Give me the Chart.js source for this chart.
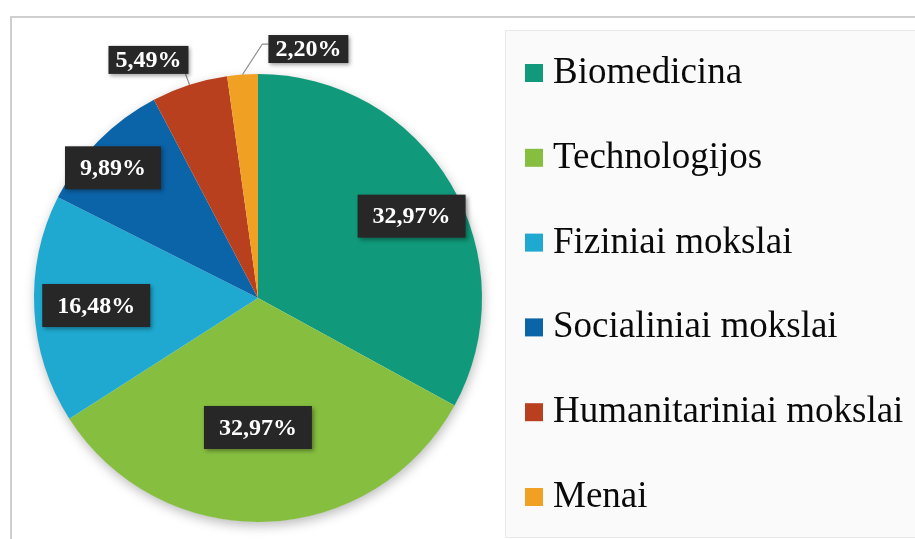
<!DOCTYPE html>
<html>
<head>
<meta charset="utf-8">
<script src="https://cdn.jsdelivr.net/npm/chart.js@4.4.1/dist/chart.umd.min.js"></script>
<style>
  html, body { margin: 0; padding: 0; background: #ffffff; }
  #wrap { position: relative; width: 915px; height: 539px; }
</style>
</head>
<body>
<div id="wrap"><canvas id="c" width="915" height="539"></canvas></div>
<script>
// ---- data ----
const categories = ["Biomedicina", "Technologijos", "Fiziniai mokslai", "Socialiniai mokslai", "Humanitariniai mokslai", "Menai"];
const shares = [32.97, 32.97, 16.48, 9.89, 5.49, 2.20];
const valueLabels = ["32,97%", "32,97%", "16,48%", "9,89%", "5,49%", "2,20%"];

// ---- styles ----
const sliceColors = ["#10997a", "#86be40", "#1fa8d0", "#0b63a8", "#b8401f", "#f0a022"];
// label placement relative to each arc: [radius factor, angle delta from mid (deg), big box?, leader type]
const labelPlacement = [
  [0.777, 2.6, true, null],
  [0.578, 2.0, true, null],
  [0.723, 0.3, true, null],
  [0.870, -2.6, true, null],
  [1.170, -6.9, false, "bottom"],
  [1.134, 15.4, false, "elbow"]
];

const frameAndLegend = {
  id: 'frameAndLegend',
  beforeDraw(chart) {
    const ctx = chart.ctx;
    ctx.save();
    ctx.fillStyle = '#ffffff';
    ctx.fillRect(0, 0, chart.width, chart.height);
    // outer frame
    ctx.strokeStyle = '#cfcfcf';
    ctx.lineWidth = 2;
    ctx.beginPath();
    ctx.moveTo(11, 545);
    ctx.lineTo(11, 17);
    ctx.lineTo(920, 17);
    ctx.stroke();
    // legend box
    ctx.fillStyle = '#fafafa';
    ctx.fillRect(505, 30, 420, 507);
    ctx.strokeStyle = '#e9e9e9';
    ctx.lineWidth = 1;
    ctx.strokeRect(505.5, 30.5, 420, 507);
    // legend entries
    ctx.font = '37px "Liberation Serif", "Times New Roman", serif';
    ctx.textBaseline = 'alphabetic';
    ctx.textAlign = 'left';
    categories.forEach((name, i) => {
      const base = 83 + i * 84.8;
      ctx.fillStyle = sliceColors[i];
      ctx.fillRect(525, base - 19, 18, 18);
      ctx.fillStyle = '#0a0a0a';
      ctx.fillText(name, 553, base);
    });
    ctx.restore();
  },
  beforeDatasetsDraw(chart) {
    const arc = chart.getDatasetMeta(0).data[0];
    if (!arc) return;
    const ctx = chart.ctx;
    ctx.save();
    ctx.shadowColor = 'rgba(0,0,0,0.28)';
    ctx.shadowBlur = 12;
    ctx.shadowOffsetX = 1;
    ctx.shadowOffsetY = 4;
    ctx.fillStyle = '#ffffff';
    ctx.beginPath();
    ctx.arc(arc.x, arc.y, arc.outerRadius - 0.5, 0, Math.PI * 2);
    ctx.fill();
    ctx.restore();
  },
  afterDatasetsDraw(chart) {
    const ctx = chart.ctx;
    const meta = chart.getDatasetMeta(0);
    ctx.save();
    ctx.font = 'bold 24px "Liberation Serif", "Times New Roman", serif';
    ctx.textAlign = 'center';
    ctx.textBaseline = 'middle';
    meta.data.forEach((el, i) => {
      const p = labelPlacement[i];
      const mid = (el.startAngle + el.endAngle) / 2;
      const a = mid + p[1] * Math.PI / 180;
      const r = el.outerRadius * p[0];
      const cx = el.x + r * Math.cos(a);
      const cy = el.y + r * Math.sin(a);
      const tw = ctx.measureText(valueLabels[i]).width;
      const w = tw + (p[2] ? 30 : 14);
      const h = p[2] ? 43 : 28;
      const bx = cx - w / 2, by = cy - h / 2;
      // leader line
      if (p[3]) {
        const ex = el.x + el.outerRadius * Math.cos(mid);
        const ey = el.y + el.outerRadius * Math.sin(mid);
        ctx.strokeStyle = '#8a8a8a';
        ctx.lineWidth = 1.2;
        ctx.beginPath();
        if (p[3] === 'bottom') {
          ctx.moveTo(ex, ey);
          ctx.lineTo(bx + w - 3, by + h);
        } else {
          ctx.moveTo(ex, ey);
          ctx.lineTo(bx - 6, by + 9);
          ctx.lineTo(bx, by + 9);
        }
        ctx.stroke();
      }
      ctx.save();
      ctx.shadowColor = 'rgba(0,0,0,0.35)';
      ctx.shadowBlur = 4;
      ctx.shadowOffsetX = 2;
      ctx.shadowOffsetY = 2;
      ctx.fillStyle = '#272727';
      ctx.fillRect(bx, by, w, h);
      ctx.restore();
      ctx.fillStyle = '#ffffff';
      ctx.fillText(valueLabels[i], cx, cy + 1);
    });
    ctx.restore();
  }
};

new Chart(document.getElementById('c'), {
  type: 'pie',
  data: {
    labels: categories,
    datasets: [{
      data: shares,
      backgroundColor: sliceColors,
      borderWidth: 0
    }]
  },
  options: {
    responsive: false,
    animation: false,
    layout: { padding: { left: 34, right: 433, top: 74, bottom: 17 } },
    plugins: {
      legend: { display: false },
      tooltip: { enabled: false }
    }
  },
  plugins: [frameAndLegend]
});
</script>
</body>
</html>
